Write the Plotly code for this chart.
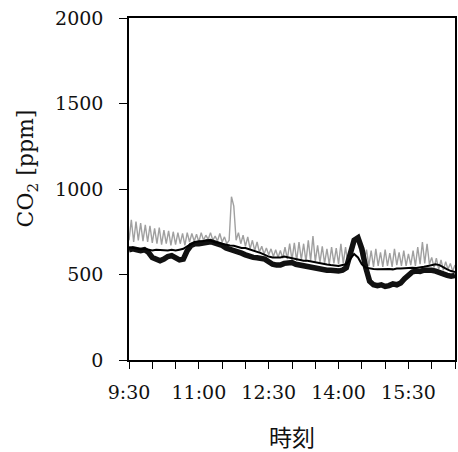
import plotly.graph_objects as go

# ---- data (ppm) ----
START_H = 9.5            # 9:30
STEP_THICK_MIN = 5
STEP_THIN_MIN = 5
STEP_GRAY_MIN = 3

thick_vals = [645, 650, 645, 640, 645, 630, 600, 590, 580, 590,
              605, 610, 600, 585, 590, 640, 670, 680, 680, 685,
              690, 692, 685, 680, 670, 655, 648, 645, 635, 625,
              615, 605, 600, 598, 595, 590, 575, 560, 555, 555,
              565, 570, 570, 560, 555, 550, 545, 540, 535, 530,
              528, 525, 525, 522, 520, 525, 540, 620, 700, 715,
              650, 540, 460, 440, 435, 440, 430, 435, 445, 440,
              450, 475, 500, 515, 520, 518, 525, 528, 525, 520,
              510, 500, 495, 490, 495]

thin_vals = [660, 655, 650, 648, 650, 645, 640, 645, 642, 640,
             640, 645, 640, 645, 650, 665, 680, 690, 695, 695,
             700, 698, 690, 685, 680, 672, 670, 668, 660, 655,
             655, 648, 640, 635, 625, 615, 605, 600, 598, 600,
             605, 600, 595, 590, 585, 580, 580, 575, 570, 565,
             560, 558, 555, 552, 550, 555, 560, 590, 620, 600,
             560, 540, 535, 532, 530, 532, 530, 532, 530, 535,
             535, 538, 540, 540, 538, 540, 545, 550, 555, 560,
             555, 540, 530, 520, 515]

gray_vals = [700, 820, 690, 810, 700, 800, 695, 790, 690, 785,
             685, 770, 680, 775, 675, 760, 680, 755, 670, 750,
             675, 745, 680, 740, 670, 745, 690, 740, 695, 735,
             690, 745, 700, 730, 705, 745, 700, 725, 695, 740,
             690, 720, 680, 700, 955, 900, 700, 745, 680, 730,
             665, 720, 650, 700, 640, 690, 630, 665, 620, 655,
             615, 650, 605, 645, 600, 640, 595, 660, 590, 680,
             585, 685, 580, 690, 585, 680, 575, 700, 580, 725,
             575, 670, 570, 665, 565, 650, 560, 660, 565, 655,
             560, 680, 565, 660, 560, 600, 640, 680, 700, 650,
             600, 580, 645, 550, 640, 545, 650, 550, 630, 545,
             645, 550, 625, 545, 650, 555, 630, 550, 640, 550,
             620, 555, 640, 550, 660, 560, 690, 565, 680, 560,
             600, 540, 595, 530, 585, 525, 575, 530, 565, 520,
             555]

xtick_vals = [9.5, 11.0, 12.5, 14.0, 15.5]
xtick_text = ["9:30", "11:00", "12:30", "14:00", "15:30"]
ytick_vals = [0, 500, 1000, 1500, 2000]
ytick_text = ["0", "500", "1000", "1500", "2000"]


def times(n, step_min):
    return [START_H + i * step_min / 60.0 for i in range(n)]


fig = go.Figure()
fig.add_trace(go.Scatter(x=times(len(gray_vals), STEP_GRAY_MIN), y=gray_vals,
                         mode="lines", line=dict(color="#a0a0a0", width=1.4),
                         showlegend=False, hoverinfo="skip"))
fig.add_trace(go.Scatter(x=times(len(thick_vals), STEP_THICK_MIN), y=thick_vals,
                         mode="lines", line=dict(color="#111111", width=5.5),
                         showlegend=False, hoverinfo="skip"))
fig.add_trace(go.Scatter(x=times(len(thin_vals), STEP_THIN_MIN), y=thin_vals,
                         mode="lines", line=dict(color="#000000", width=2),
                         showlegend=False, hoverinfo="skip"))

tick_font = dict(family="DejaVu Serif", size=19, color="#111111")

fig.update_xaxes(range=[9.5, 16.5], tickvals=xtick_vals, ticktext=xtick_text,
                 ticks="outside", ticklen=7, tickwidth=1, tickcolor="black",
                 minor=dict(dtick=0.5, tick0=9.5, ticks="outside", ticklen=7,
                            tickwidth=1, tickcolor="black", showgrid=False),
                 showline=True, linecolor="black", linewidth=1.5, mirror=True,
                 showgrid=False, zeroline=False, tickfont=tick_font,
                 ticklabelstandoff=7, automargin=False)
fig.update_yaxes(range=[0, 2000], tickvals=ytick_vals, ticktext=ytick_text,
                 ticks="outside", ticklen=8, tickwidth=1, tickcolor="black",
                 showline=True, linecolor="black", linewidth=1.5, mirror=True,
                 showgrid=False, zeroline=False, tickfont=tick_font,
                 ticklabelstandoff=12, automargin=False)

fig.add_annotation(text="CO<sub>2</sub> [ppm]", xref="paper", yref="paper",
                   x=-0.31, y=0.56, xanchor="center", yanchor="middle",
                   textangle=-90, showarrow=False,
                   font=dict(family="DejaVu Serif", size=22, color="#111111"))
fig.add_annotation(text="時刻", xref="paper", yref="paper",
                   x=0.5, y=-0.222, xanchor="center", yanchor="middle",
                   showarrow=False,
                   font=dict(family="Noto Sans CJK JP", size=23, color="#111111"))

fig.update_layout(width=458, height=452,
                  margin=dict(l=129, r=3, t=18, b=92),
                  paper_bgcolor="white", plot_bgcolor="white")

fig.write_html("out.html", config={"displayModeBar": False},
               post_script="document.body.style.margin='0';document.body.style.overflow='hidden';")
